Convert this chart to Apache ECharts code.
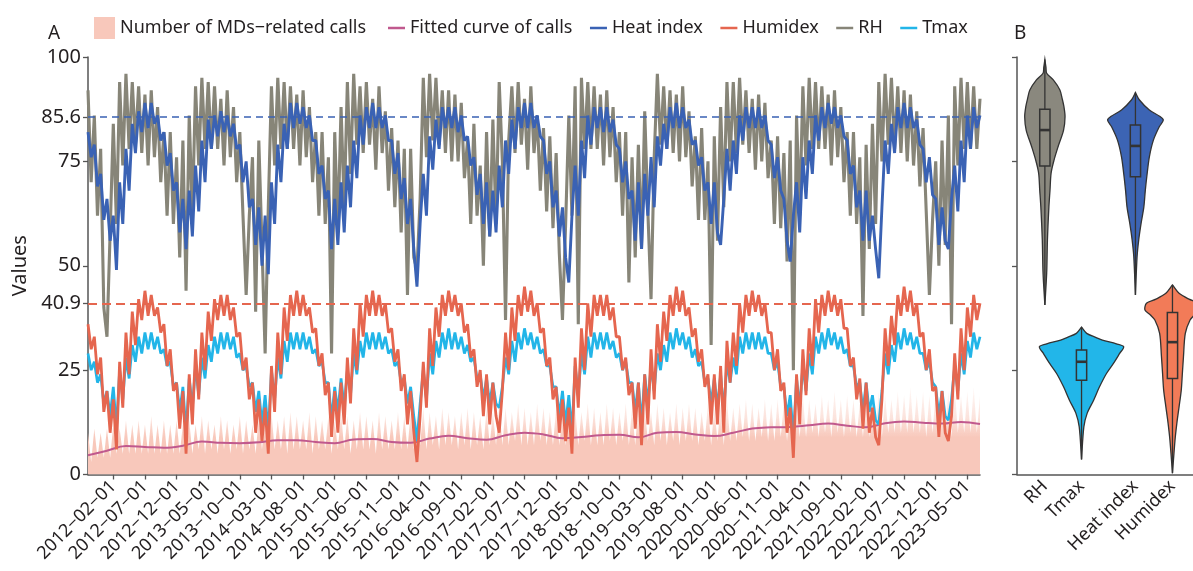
<!DOCTYPE html>
<html>
<head>
<meta charset="utf-8">
<style>
  html, body { margin: 0; padding: 0; background: #fff; }
  #main { width: 1193px; height: 571px; }
</style>
<script src="https://cdn.jsdelivr.net/npm/echarts@6/dist/echarts.min.js"></script>
</head>
<body>
<div id="main"></div>
<script>
// samples on the 1st and 16th of each month, 2011-10 .. 2023-06 (+ 2023-07-01 end point)
const firstYear = 2011, firstMonth = 10, lastYear = 2023, lastMonth = 6;
const dates = [];
for (let k = 0; ; k++) {
  const t = firstMonth - 1 + k;
  const y = firstYear + Math.floor(t / 12), m = (t % 12) + 1;
  if (y > lastYear || (y === lastYear && m > lastMonth)) break;
  const mm = String(m).padStart(2, '0');
  dates.push(`${y}-${mm}-01`, `${y}-${mm}-16`);
}
dates.push('2023-07-01');

const yTicks = [0, 25, 40.9, 50, 75, 85.6, 100];
const heatIndexLimit = 85.6;
const humidexLimit = 40.9;

// daily MDs-related calls (peaks / troughs)
const calls = [
  10,3,11,4,10,4,
  11,4,12,5,11,5,13,5,12,5,13,5,12,5,14,5,12,5,13,5,12,5,13,5,
  12,5,13,5,12,6,14,5,13,6,12,5,14,6,13,5,12,6,14,5,13,6,12,5,
  14,6,13,5,15,6,13,6,14,5,15,6,14,6,13,6,15,5,14,6,13,6,14,5,
  13,6,15,6,14,5,13,6,15,6,14,6,13,5,15,6,14,6,13,6,15,6,14,6,
  15,6,14,7,16,6,15,7,14,6,16,7,15,7,14,6,15,7,16,6,15,7,14,6,
  16,7,15,7,17,7,16,7,15,8,17,7,16,7,15,7,17,8,16,7,15,7,16,7,
  15,7,17,7,16,7,15,8,17,7,16,7,15,7,17,8,16,7,15,8,17,7,16,7,
  17,7,16,8,15,7,17,8,16,7,15,8,17,7,16,8,17,8,16,7,15,8,17,7,
  16,8,17,7,18,8,16,8,17,9,18,8,17,8,16,9,18,8,17,8,18,9,17,8,
  18,9,17,9,19,9,18,10,17,9,19,10,18,9,20,10,18,9,19,10,18,9,17,9,
  19,9,18,10,20,9,19,10,18,10,20,10,19,10,21,10,19,10,20,9,19,10,20,10,
  19,10,20,9,21,10,19,10,20,10,21,10,19
];

// fitted curve of calls, one value every 3 months
const fittedCurve = [
  4.6, 5.7, 6.8, 6.6, 6.4, 6.9, 7.9, 7.6, 7.5, 7.7,
  8.2, 8.2, 7.8, 7.5, 8.4, 8.5, 7.8, 7.6, 8.6, 9.3,
  8.7, 8.3, 9.4, 10.0, 9.6, 8.7, 9.0, 9.4, 9.5, 8.9,
  10.0, 10.2, 9.6, 9.2, 10.0, 11.0, 11.3, 11.4, 11.8, 12.2,
  11.7, 11.3, 12.3, 12.7, 12.4, 12.2, 12.6, 12.1
];

const heatIndex = [
  82,76,79,69,72,61,
  66,56,62,49,70,60,78,68,84,77,87,82,89,83,89,84,86,80,82,74,77,68,70,58,
  66,54,68,57,74,63,80,70,85,78,86,81,87,82,86,81,84,78,79,70,75,64,66,55,
  64,50,62,48,70,60,79,70,84,78,89,83,89,84,88,83,86,80,80,72,74,66,68,54,
  66,55,70,58,74,64,80,71,86,79,88,83,89,83,88,83,86,80,80,72,77,66,71,60,
  66,54,45,60,72,62,81,73,85,78,88,83,88,83,88,82,86,80,81,74,76,67,72,60,
  70,57,68,58,74,64,80,72,85,78,88,83,89,83,89,83,86,81,80,72,75,64,68,57,
  64,52,46,62,74,62,80,71,86,79,88,83,88,82,88,82,85,79,78,70,75,66,68,56,
  70,54,72,62,76,64,81,74,84,78,88,83,89,83,88,83,85,79,80,74,76,68,70,60,
  70,58,55,66,78,68,80,72,86,80,88,83,88,83,88,83,86,80,79,71,76,68,66,56,
  51,62,70,58,76,66,80,72,86,80,88,83,89,84,88,83,86,81,80,72,74,64,68,56,
  68,56,62,54,47,64,80,72,84,77,88,83,89,83,88,83,85,79,78,70,76,67,66,55,
  64,56,54,66,74,63,80,70,86,78,88,83,86
];

const humidex = [
  36,30,33,24,28,15,
  20,10,18,6,27,16,34,24,39,31,42,37,44,38,43,38,40,34,36,26,30,20,22,11,
  20,5,24,12,30,18,34,25,39,32,42,37,43,38,43,37,40,33,34,25,28,18,22,10,
  18,8,16,5,26,15,34,24,40,32,43,38,44,38,43,38,40,34,35,26,29,19,22,9,
  20,10,22,12,28,17,35,25,41,33,43,38,44,38,43,38,41,34,35,27,30,20,24,12,
  20,10,3,14,27,16,35,26,40,33,43,38,44,39,43,38,41,34,36,28,30,21,25,14,
  24,12,22,14,10,20,34,25,40,32,43,38,45,39,44,38,41,34,35,26,28,18,21,10,
  18,8,16,5,28,16,35,25,41,33,43,38,43,38,43,37,40,33,33,25,28,19,22,11,
  22,7,24,12,30,18,36,27,39,32,43,38,45,39,44,38,40,33,35,27,30,21,24,12,
  24,12,26,10,32,22,34,26,41,34,43,38,44,39,43,38,41,34,34,25,30,20,22,10,
  16,4,24,12,30,19,35,26,42,34,43,38,44,39,43,38,42,35,35,26,28,18,23,11,
  22,10,16,9,7,18,35,26,38,31,43,38,45,39,44,38,41,33,34,25,30,20,21,9,
  20,10,8,14,29,18,35,25,40,33,43,37,41
];

const rh = [
  92,70,86,62,78,40,
  33,58,84,60,94,74,96,78,94,79,93,77,91,74,92,76,88,70,82,62,82,60,76,52,
  80,44,86,62,93,74,95,78,94,78,93,78,90,74,92,76,88,70,82,62,43,62,76,39,
  80,55,29,64,93,74,95,78,94,78,93,78,91,74,92,76,88,70,82,62,82,60,76,29,
  82,58,88,64,94,72,96,79,93,77,94,79,90,73,93,77,87,68,83,64,80,58,78,43,
  78,52,49,66,95,76,96,80,95,79,92,77,92,75,91,75,89,71,80,60,84,62,74,50,
  82,57,85,60,94,75,37,80,93,77,94,79,90,73,93,77,86,68,83,63,81,59,77,53,
  37,60,86,62,93,36,95,78,94,78,93,78,91,74,92,76,88,70,82,62,82,46,76,52,
  79,54,87,63,42,76,96,79,93,78,92,77,91,75,93,76,87,69,81,61,83,61,75,31,
  81,56,88,64,94,75,94,77,95,79,92,77,90,73,91,75,89,71,80,60,81,59,77,51,
  80,25,86,62,93,74,95,78,94,78,93,78,91,74,92,76,88,70,82,62,82,60,76,38,
  79,54,84,60,94,75,96,79,95,78,93,77,92,75,91,74,87,69,83,63,43,61,75,50,
  80,55,86,36,93,74,95,78,94,78,93,78,90
];

const tmax = [
  29,25,27,22,24,17,
  20,14,21,11,25,18,28,23,31,27,33,29,34,30,34,30,33,29,30,26,27,21,22,15,
  21,10,23,16,26,19,28,23,31,27,33,29,34,30,34,30,33,28,29,25,26,21,22,15,
  20,12,19,10,25,18,28,23,32,27,34,30,34,30,34,30,33,29,30,26,27,22,22,13,
  21,15,23,16,25,19,29,24,32,28,34,30,34,30,34,30,33,29,30,26,27,22,23,17,
  21,14,8,17,25,18,29,24,32,28,34,30,35,30,34,30,33,29,31,27,28,23,24,18,
  23,17,22,17,16,21,28,24,32,27,34,30,35,31,34,30,33,29,30,26,26,21,21,14,
  20,12,19,10,26,19,29,24,33,28,34,30,34,30,34,30,32,28,29,25,27,22,22,15,
  22,12,24,17,26,20,29,25,31,27,34,30,35,31,34,30,33,28,30,26,27,22,23,17,
  23,16,24,15,27,22,28,24,33,29,34,30,34,30,34,30,33,29,29,25,27,21,21,14,
  19,9,23,16,26,20,29,24,33,29,34,30,35,31,34,30,33,29,30,26,26,21,22,15,
  22,15,19,13,12,20,29,24,31,27,34,30,35,31,34,30,33,29,29,25,27,22,21,14,
  20,14,13,18,26,20,29,24,32,28,34,30,33
];

// panel B: violins (value, half width in x units) and box stats [min, q1, median, q3, max]
const violinNames = ['RH', 'Tmax', 'Heat index', 'Humidex'];
const violinPos = [0.76, 1.76, 3.23, 4.24];
const violinProfiles = [
  [[99.4,0],[97.5,0.03],[96.1,0.05],[94.5,0.23],[92.1,0.41],[90.1,0.47],[88.1,0.52],[85.7,0.55],[82.5,0.51],[78.5,0.36],[75.3,0.25],[72.2,0.17],[68.1,0.14],[64.1,0.11],[56.2,0.07],[48.3,0.05],[40.6,0]],
  [[35.3,0],[33.8,0.14],[32.8,0.4],[32.2,0.57],[31.3,0.95],[30.6,1.15],[29,1.04],[26.6,0.87],[24.2,0.68],[21,0.49],[17.8,0.33],[14.7,0.155],[11.4,0.063],[3.6,0]],
  [[91.5,0],[89.7,0.11],[87.3,0.38],[85.8,0.66],[84.9,0.76],[83.3,0.65],[80.1,0.49],[76.1,0.38],[72.1,0.32],[68.1,0.27],[64.1,0.23],[60.2,0.155],[56.2,0.09],[52.2,0.045],[43,0]],
  [[45.4,0],[43.4,0.18],[42,0.45],[41,0.71],[39.4,0.75],[38.2,0.6],[37,0.48],[33.8,0.35],[28.2,0.3],[24.2,0.27],[20.2,0.24],[16.2,0.18],[12.3,0.12],[8.3,0.07],[0.3,0]]
];
const violinBoxes = [
  [40.6, 73.9, 82.5, 87.5, 99.4],
  [3.6, 22.6, 27.0, 29.8, 35.3],
  [43, 71.3, 78.7, 83.7, 91.5],
  [0.3, 23.0, 31.7, 38.8, 45.4]
];

const colors = {
  calls: '#f8c8bb', fitted: '#c0598e', heat: '#3a62b4',
  humidex: '#e5664f', rh: '#878578', tmax: '#22b5e8'
};
const violinColors = ['#8a887e', '#22b6e9', '#3c64b4', '#f27b58'];
const font = 'Noto Sans';
const textColor = '#231f20';
const axisColor = '#555';

const showLabel = (i) => i % 10 === 8;
const fittedData = dates.map((d, i) => (i % 6 === 0 ? fittedCurve[i / 6] : null));

const callsFill = new echarts.graphic.LinearGradient(0, 0, 0, 1, [
  { offset: 0, color: 'rgba(248,200,187,0.12)' },
  { offset: 0.35, color: 'rgba(248,200,187,0.5)' },
  { offset: 0.58, color: 'rgba(248,200,187,1)' },
  { offset: 1, color: 'rgba(248,200,187,1)' },
]);

const chart = echarts.init(document.getElementById('main'));

chart.setOption({
  animation: false,
  textStyle: { fontFamily: font },
  title: [
    { text: 'A', left: 43, top: 19, textStyle: { fontSize: 19, fontWeight: 'normal', color: textColor, fontFamily: font } },
    { text: 'B', left: 1009, top: 19, textStyle: { fontSize: 19, fontWeight: 'normal', color: textColor, fontFamily: font } },
  ],
  legend: [
    {
      data: [{ name: 'Number of MDs−related calls', icon: 'rect', itemStyle: { color: colors.calls } }],
      left: 89, top: 12, itemWidth: 21, itemHeight: 22,
      textStyle: { fontSize: 18, color: textColor, fontFamily: font },
    },
    {
      data: ['Fitted curve of calls', 'Heat index', 'Humidex', 'RH', 'Tmax'],
      left: 383, top: 14, itemWidth: 17, itemHeight: 2.5, itemGap: 17.5, icon: 'rect',
      textStyle: { fontSize: 18, color: textColor, fontFamily: font },
    },
  ],
  grid: [
    { left: 88, top: 57, width: 892, height: 417.5 },
    { left: 1017, top: 57, width: 176, height: 417.5 },
  ],
  xAxis: [
    {
      type: 'category', gridIndex: 0, data: dates, boundaryGap: false,
      axisLine: { lineStyle: { color: axisColor, width: 1.5 } },
      axisTick: { interval: showLabel, length: 5, lineStyle: { color: axisColor, width: 1.3 } },
      axisLabel: {
        interval: showLabel, rotate: 45, margin: 9, fontSize: 18, color: textColor,
        formatter: (v) => v.replace(/-/g, '−'),
      },
      splitLine: { show: false },
    },
    {
      type: 'value', gridIndex: 1, min: 0, max: 4.8,
      axisLine: { lineStyle: { color: axisColor, width: 1.5 } },
      axisTick: { show: false },
      splitLine: { show: false },
      axisLabel: {
        customValues: violinPos, rotate: 45, margin: 9, fontSize: 18, color: textColor,
        formatter: (v) => violinNames[violinPos.indexOf(v)] || '',
      },
    },
  ],
  yAxis: [
    {
      type: 'value', gridIndex: 0, min: 0, max: 100,
      name: 'Values', nameLocation: 'middle', nameGap: 58, nameRotate: 90,
      nameTextStyle: { fontSize: 20, color: textColor, fontFamily: font },
      axisLine: { show: true, lineStyle: { color: axisColor, width: 1.5 } },
      axisTick: { show: true, customValues: yTicks, length: 5, lineStyle: { color: axisColor, width: 1.3 } },
      axisLabel: { customValues: yTicks, fontSize: 20, color: textColor, margin: 7, formatter: (v) => String(v) },
      splitLine: { show: false },
    },
    {
      type: 'value', gridIndex: 1, min: 0, max: 100, interval: 25,
      axisLine: { show: true, lineStyle: { color: axisColor, width: 1.5 } },
      axisTick: { show: true, length: 5, lineStyle: { color: axisColor, width: 1.3 } },
      axisLabel: { show: false },
      splitLine: { show: false },
    },
  ],
  series: [
    {
      name: 'Number of MDs−related calls', type: 'line', data: calls,
      symbol: 'none', lineStyle: { width: 0 }, itemStyle: { color: colors.calls },
      areaStyle: { color: callsFill, opacity: 1 },
    },
    {
      name: 'Fitted curve of calls', type: 'line', data: fittedData, connectNulls: true, smooth: 0.4,
      symbol: 'none', itemStyle: { color: colors.fitted }, lineStyle: { color: colors.fitted, width: 2 },
    },
    {
      name: 'RH', type: 'line', data: rh, symbol: 'none',
      itemStyle: { color: colors.rh }, lineStyle: { color: colors.rh, width: 3.1 },
    },
    {
      name: 'Heat index', type: 'line', data: heatIndex, symbol: 'none',
      itemStyle: { color: colors.heat }, lineStyle: { color: colors.heat, width: 2.9 },
      markLine: {
        silent: true, symbol: ['none', 'none'], label: { show: false },
        lineStyle: { color: colors.heat, type: [7, 5], width: 1.5 },
        data: [{ yAxis: heatIndexLimit }],
      },
    },
    {
      name: 'Tmax', type: 'line', data: tmax, symbol: 'none',
      itemStyle: { color: colors.tmax }, lineStyle: { color: colors.tmax, width: 2.7 },
    },
    {
      name: 'Humidex', type: 'line', data: humidex, symbol: 'none',
      itemStyle: { color: colors.humidex }, lineStyle: { color: colors.humidex, width: 2.8 },
      markLine: {
        silent: true, symbol: ['none', 'none'], label: { show: false },
        lineStyle: { color: colors.humidex, type: [9, 5], width: 1.8 },
        data: [{ yAxis: humidexLimit }],
      },
    },
    {
      type: 'custom', xAxisIndex: 1, yAxisIndex: 1, silent: true,
      data: violinBoxes.map((b, i) => [violinPos[i], b[2]]),
      encode: { x: 0, y: 1 },
      renderItem(params, api) {
        const i = params.dataIndex;
        const c = violinPos[i];
        const prof = violinProfiles[i];
        const right = prof.map(([v, w]) => api.coord([c + w, v]));
        const left = prof.slice().reverse().map(([v, w]) => api.coord([c - w, v]));
        const b = violinBoxes[i];
        const bw = 0.14;
        const lo = api.coord([c, b[0]]), hi = api.coord([c, b[4]]);
        const tl = api.coord([c - bw, b[3]]), br = api.coord([c + bw, b[1]]);
        const ml = api.coord([c - bw, b[2]]), mr = api.coord([c + bw, b[2]]);
        return {
          type: 'group',
          children: [
            { type: 'polygon', shape: { points: right.concat(left), smooth: 0.3 },
              style: { fill: violinColors[i], stroke: '#333', lineWidth: 1.3 } },
            { type: 'line', shape: { x1: lo[0], y1: lo[1], x2: hi[0], y2: hi[1] },
              style: { stroke: '#333', lineWidth: 1.3 } },
            { type: 'rect', shape: { x: tl[0], y: tl[1], width: br[0] - tl[0], height: br[1] - tl[1] },
              style: { fill: violinColors[i], stroke: '#333', lineWidth: 1.5 } },
            { type: 'line', shape: { x1: ml[0], y1: ml[1], x2: mr[0], y2: mr[1] },
              style: { stroke: '#333', lineWidth: 2.6 } },
          ],
        };
      },
    },
  ],
});
</script>
</body>
</html>
